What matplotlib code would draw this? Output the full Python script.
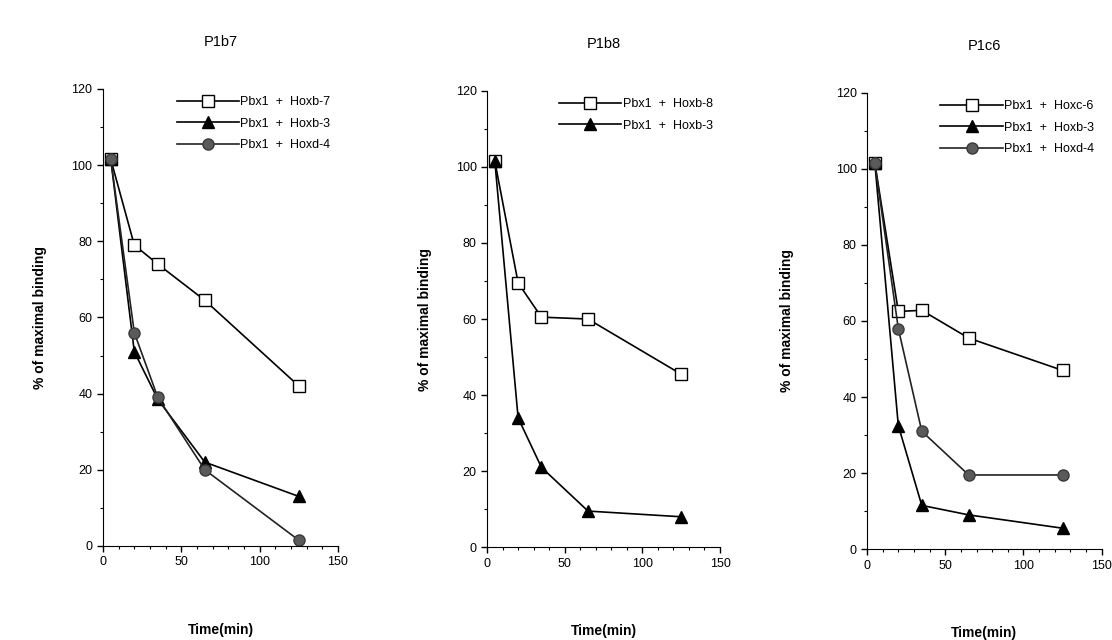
import matplotlib
matplotlib.use("Agg")
import matplotlib.pyplot as plt

plt.rcParams['font.family'] = ['Liberation Sans', 'DejaVu Sans']

# tempos (min)
tempo = [5, 20, 35, 65, 125]

# P1b7
b7_hoxb7 = [101.5, 79, 74, 64.5, 42]
b7_hoxb3 = [101.5, 51, 38.5, 22, 13]
b7_hoxd4 = [101.5, 56, 39, 20, 1.5]

# P1b8
b8_hoxb8 = [101.5, 69.5, 60.5, 60, 45.5]
b8_hoxb3 = [101.5, 34, 21, 9.5, 8]

# P1c6
c6_hoxc6 = [101.5, 62.5, 62.8, 55.5, 47]
c6_hoxb3 = [101.5, 32.5, 11.5, 9, 5.5]
c6_hoxd4 = [101.5, 58, 31, 19.5, 19.5]

titulos = ["P1b7", "P1b8", "P1c6"]

estilo = {
    "quadrado": dict(marker="s", markerfacecolor="white", markeredgecolor="black", markersize=8, color="black"),
    "triangulo": dict(marker="^", markerfacecolor="black", markeredgecolor="black", markersize=8, color="black"),
    "circulo": dict(marker="o", markerfacecolor="#5a5a5a", markeredgecolor="#3a3a3a", markersize=8, color="#222222"),
}

paineis = [
    (titulos[0], [(b7_hoxb7, "Pbx1  +  Hoxb-7", "quadrado"),
                  (b7_hoxb3, "Pbx1  +  Hoxb-3", "triangulo"),
                  (b7_hoxd4, "Pbx1  +  Hoxd-4", "circulo")]),
    (titulos[1], [(b8_hoxb8, "Pbx1  +  Hoxb-8", "quadrado"),
                  (b8_hoxb3, "Pbx1  +  Hoxb-3", "triangulo")]),
    (titulos[2], [(c6_hoxc6, "Pbx1  +  Hoxc-6", "quadrado"),
                  (c6_hoxb3, "Pbx1  +  Hoxb-3", "triangulo"),
                  (c6_hoxd4, "Pbx1  +  Hoxd-4", "circulo")]),
]

posicoes = [
    [0.0926, 0.147, 0.2113, 0.714],
    [0.438, 0.145, 0.2095, 0.713],
    [0.7797, 0.142, 0.211, 0.713],
]
ylabel_pad = [18, 17, 30]

fig = plt.figure(figsize=(11.12, 6.4), dpi=100)

for (titulo, series), pos, lp in zip(paineis, posicoes, ylabel_pad):
    ax = fig.add_axes(pos)
    for valores, rotulo, tipo in series:
        ax.plot(tempo, valores, linewidth=1.2, label=rotulo, **estilo[tipo])
    ax.set_xlim(0, 150)
    ax.set_ylim(0, 120)
    ax.set_xticks([0, 50, 100, 150])
    ax.set_yticks([0, 20, 40, 60, 80, 100, 120])
    ax.set_xticks(range(0, 151, 10), minor=True)
    ax.set_yticks(range(0, 121, 10), minor=True)
    ax.spines["top"].set_visible(False)
    ax.spines["right"].set_visible(False)
    ax.tick_params(direction="out", labelsize=9, length=4, width=1)
    ax.tick_params(which="minor", direction="out", length=2.5, width=0.8)
    ax.set_title(titulo, fontsize=10.5, pad=31)
    ax.set_xlabel("Time(min)", fontsize=10, fontweight="bold", labelpad=39)
    ax.set_ylabel("% of maximal binding", fontsize=10, fontweight="bold", labelpad=lp)
    ax.legend(loc="upper right", frameon=False, fontsize=9, handlelength=5,
              handletextpad=0.1, borderaxespad=0.2, labelspacing=0.75)

fig.savefig("out.png", dpi=100)
